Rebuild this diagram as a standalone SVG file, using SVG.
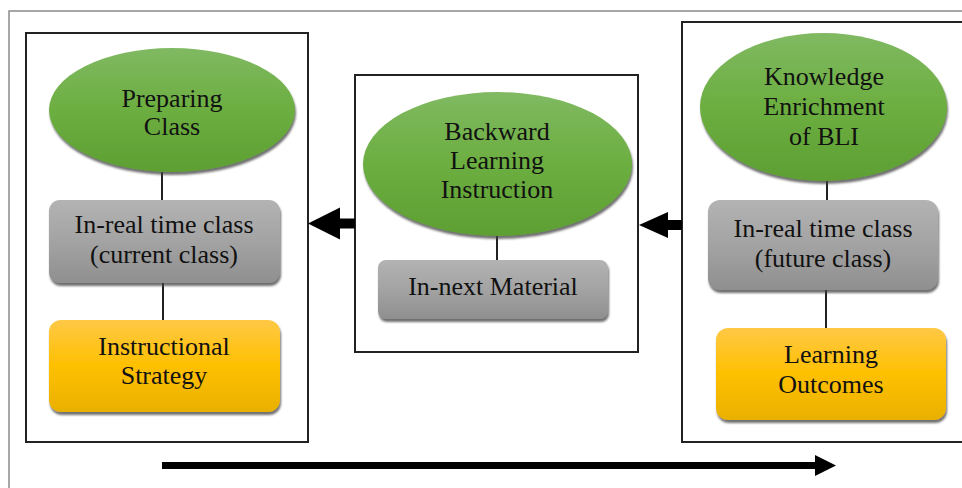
<svg xmlns="http://www.w3.org/2000/svg" width="962" height="488" viewBox="0 0 962 488">
  <defs>
    <linearGradient id="gGreen" x1="0" y1="0" x2="0" y2="1">
      <stop offset="0" stop-color="#80b962"/>
      <stop offset="0.5" stop-color="#6cae40"/>
      <stop offset="1" stop-color="#5e9f33"/>
    </linearGradient>
    <linearGradient id="gGray" x1="0" y1="0" x2="0" y2="1">
      <stop offset="0" stop-color="#b3b3b3"/>
      <stop offset="0.5" stop-color="#a3a3a3"/>
      <stop offset="1" stop-color="#8f8f8f"/>
    </linearGradient>
    <linearGradient id="gYellow" x1="0" y1="0" x2="0" y2="1">
      <stop offset="0" stop-color="#ffc846"/>
      <stop offset="0.5" stop-color="#ffc000"/>
      <stop offset="1" stop-color="#e8b000"/>
    </linearGradient>
    <filter id="shadow" x="-10%" y="-10%" width="120%" height="130%">
      <feDropShadow dx="1" dy="3" stdDeviation="1" flood-color="#404040" flood-opacity="0.75"/>
    </filter>
  </defs>
  <style>
    .frame { fill: none; stroke: #222; stroke-width: 2; }
    .outer { fill: none; stroke: #8a8a8a; stroke-width: 1.5; }
    .ell { fill: url(#gGreen); filter: url(#shadow); }
    .gray { fill: url(#gGray); filter: url(#shadow); }
    .yellow { fill: url(#gYellow); filter: url(#shadow); }
    .link { stroke: #222; stroke-width: 2; fill: none; }
    .arrow { fill: #000; }
    text { font-family: "Liberation Serif", "Times New Roman", serif; font-size: 26px; fill: #111; text-anchor: middle; }
  </style>

  <rect width="962" height="488" fill="#ffffff"/>
  <!-- page border -->
  <rect class="outer" x="9" y="11" width="980" height="500"/>

  <!-- stage frames -->
  <rect class="frame" x="26" y="33" width="282" height="409"/>
  <rect class="frame" x="355" y="75" width="283" height="277"/>
  <rect class="frame" x="682" y="22" width="300" height="420"/>

  <!-- connectors -->
  <g id="connectors">
    <line class="link" x1="162" y1="172" x2="162" y2="201"/>
    <line class="link" x1="163" y1="283" x2="163" y2="321"/>
    <line class="link" x1="497" y1="236" x2="497" y2="261"/>
    <line class="link" x1="827" y1="181" x2="827" y2="201"/>
    <line class="link" x1="826" y1="290" x2="826" y2="329"/>
    <!-- flow arrows between stages -->
    <polygon class="arrow" points="308,223.5 340,207.5 340,218.5 355,218.5 355,228.5 340,228.5 340,239.5"/>
    <polygon class="arrow" points="639,225 668,212 668,220 682,220 682,230 668,230 668,238"/>
    <!-- time axis -->
    <polygon class="arrow" points="162,462 815,462 815,455 836,465.5 815,476 815,469 162,469"/>
  </g>

  <g id="preparing-class">
    <ellipse class="ell" cx="172" cy="110" rx="123" ry="62"/>
    <text x="172" y="107">Preparing</text>
    <text x="172" y="135">Class</text>
  </g>
  <g id="current-class">
    <rect class="gray" x="49" y="200" width="231" height="83" rx="11"/>
    <text x="164" y="233">In-real time class</text>
    <text x="164" y="263">(current class)</text>
  </g>
  <g id="instructional-strategy">
    <rect class="yellow" x="49" y="320" width="231" height="92" rx="12"/>
    <text x="164" y="355">Instructional</text>
    <text x="164" y="384">Strategy</text>
  </g>

  <g id="backward-learning">
    <ellipse class="ell" cx="497.5" cy="164" rx="134.5" ry="72"/>
    <text x="497" y="140">Backward</text>
    <text x="497" y="169">Learning</text>
    <text x="497" y="198">Instruction</text>
  </g>
  <g id="next-material">
    <rect class="gray" x="378" y="260" width="230" height="59" rx="8"/>
    <text x="493" y="295">In-next Material</text>
  </g>

  <g id="knowledge-enrichment">
    <ellipse class="ell" cx="823.5" cy="107" rx="123.5" ry="74"/>
    <text x="824" y="85">Knowledge</text>
    <text x="824" y="115">Enrichment</text>
    <text x="824" y="145">of BLI</text>
  </g>
  <g id="future-class">
    <rect class="gray" x="708" y="200" width="230" height="90" rx="12"/>
    <text x="823" y="237">In-real time class</text>
    <text x="823" y="267">(future class)</text>
  </g>
  <g id="learning-outcomes">
    <rect class="yellow" x="716" y="328" width="230" height="92" rx="12"/>
    <text x="831" y="363">Learning</text>
    <text x="831" y="393">Outcomes</text>
  </g>
</svg>
